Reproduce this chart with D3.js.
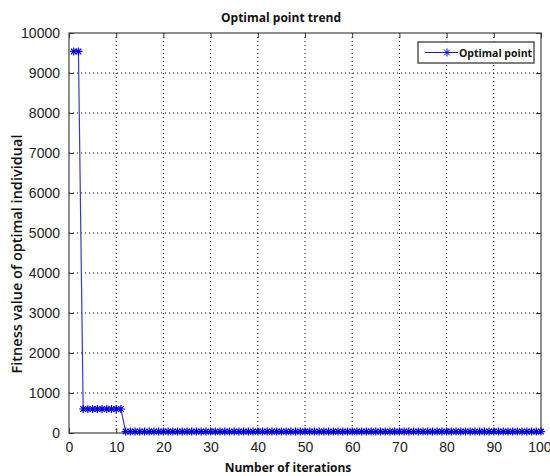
<!DOCTYPE html>
<html>
<head>
<meta charset="utf-8">
<script src="https://cdn.jsdelivr.net/npm/d3@7"></script>
<style>
  body { margin: 0; background: #fff; }
  svg { display: block; }
  .tick text { font-family: "Liberation Sans", Arial, sans-serif; font-size: 14px; fill: #222; }
  .grid line { stroke: #000; stroke-width: 1; stroke-dasharray: 1 3; }
  .lbl { font-family: "Open Sans", "DejaVu Sans", sans-serif; font-weight: bold; font-size: 12px; fill: #111; }
</style>
</head>
<body>
<div id="chart"></div>
<script>
// data
const xTicks = [0, 10, 20, 30, 40, 50, 60, 70, 80, 90, 100];
const yTicks = [0, 1000, 2000, 3000, 4000, 5000, 6000, 7000, 8000, 9000, 10000];
const iterations = [
  1, 2, 3, 4, 5, 6, 7, 8, 9, 10, 11, 12, 13, 14, 15, 16, 17, 18, 19, 20,
  21, 22, 23, 24, 25, 26, 27, 28, 29, 30, 31, 32, 33, 34, 35, 36, 37, 38, 39, 40,
  41, 42, 43, 44, 45, 46, 47, 48, 49, 50, 51, 52, 53, 54, 55, 56, 57, 58, 59, 60,
  61, 62, 63, 64, 65, 66, 67, 68, 69, 70, 71, 72, 73, 74, 75, 76, 77, 78, 79, 80,
  81, 82, 83, 84, 85, 86, 87, 88, 89, 90, 91, 92, 93, 94, 95, 96, 97, 98, 99, 100
];
const fitness = [
  9540, 9540, 600, 600, 600, 600, 600, 600, 600, 600, 600, 35, 35, 35, 35, 35, 35, 35, 35, 35,
  35, 35, 35, 35, 35, 35, 35, 35, 35, 35, 35, 35, 35, 35, 35, 35, 35, 35, 35, 35,
  35, 35, 35, 35, 35, 35, 35, 35, 35, 35, 35, 35, 35, 35, 35, 35, 35, 35, 35, 35,
  35, 35, 35, 35, 35, 35, 35, 35, 35, 35, 35, 35, 35, 35, 35, 35, 35, 35, 35, 35,
  35, 35, 35, 35, 35, 35, 35, 35, 35, 35, 35, 35, 35, 35, 35, 35, 35, 35, 35, 35
];
const seriesName = 'Optimal point';

const margin = { top: 33, right: 9, bottom: 43, left: 69 };
const width = 550 - margin.left - margin.right;
const height = 476 - margin.top - margin.bottom;

const svg = d3.select('#chart').append('svg')
  .attr('width', 550)
  .attr('height', 476);

const g = svg.append('g')
  .attr('transform', `translate(${margin.left},${margin.top})`);

const x = d3.scaleLinear().domain([0, 100]).range([0, width]);
const y = d3.scaleLinear().domain([0, 10000]).range([height, 0]);

// dotted grid
g.append('g').attr('class', 'grid')
  .selectAll('line').data(xTicks.slice(1, -1)).join('line')
  .attr('x1', d => x(d)).attr('x2', d => x(d))
  .attr('y1', 0).attr('y2', height);
g.append('g').attr('class', 'grid')
  .selectAll('line').data(yTicks.slice(1, -1)).join('line')
  .attr('y1', d => y(d)).attr('y2', d => y(d))
  .attr('x1', 0).attr('x2', width);

// axes, matlab style (ticks inward, on all four sides)
const styleAxis = sel => {
  sel.select('.domain').remove();
  sel.selectAll('.tick line').attr('stroke', '#333');
};
const fmt = d3.format('d');
const xAxisG = g.append('g').attr('transform', `translate(0,${height})`)
  .call(d3.axisBottom(x).tickValues(xTicks).tickFormat(fmt).tickSizeInner(-5).tickSizeOuter(0).tickPadding(9))
  .call(styleAxis);
// last label sits against the page edge, keep it inside
xAxisG.selectAll('.tick text').filter(d => d === 100)
  .attr('text-anchor', 'end').attr('dx', 10);
g.append('g')
  .call(d3.axisLeft(y).tickValues(yTicks).tickFormat(fmt).tickSizeInner(-5).tickSizeOuter(0).tickPadding(9))
  .call(styleAxis);
g.append('g')
  .call(d3.axisTop(x).tickValues(xTicks).tickSizeInner(-5).tickSizeOuter(0).tickFormat(''))
  .call(styleAxis);
g.append('g').attr('transform', `translate(${width},0)`)
  .call(d3.axisRight(y).tickValues(yTicks).tickSizeInner(-5).tickSizeOuter(0).tickFormat(''))
  .call(styleAxis);

g.append('rect')
  .attr('width', width).attr('height', height)
  .attr('fill', 'none').attr('stroke', '#444').attr('stroke-width', 1.2);

const points = iterations.map((it, i) => ({ it, v: fitness[i] }));

const line = d3.line().x(d => x(d.it)).y(d => y(d.v));
g.append('path').datum(points)
  .attr('d', line)
  .attr('fill', 'none')
  .attr('stroke', '#3a3acc')
  .attr('stroke-width', 1.2);

// asterisk marker
const star = r => {
  const k = r * Math.SQRT1_2;
  return `M0,${-r}V${r}M${-r},0H${r}M${-k},${-k}L${k},${k}M${-k},${k}L${k},${-k}`;
};
g.append('g').selectAll('path').data(points).join('path')
  .attr('transform', d => `translate(${x(d.it)},${y(d.v)})`)
  .attr('d', star(4))
  .attr('fill', 'none')
  .attr('stroke', '#0000ee')
  .attr('stroke-width', 1.2);

// legend
const lg = svg.append('g').attr('transform', 'translate(418,42)');
lg.append('rect').attr('width', 116).attr('height', 21)
  .attr('fill', '#fff').attr('stroke', '#555').attr('stroke-width', 1.5);
lg.append('line').attr('x1', 7).attr('x2', 40).attr('y1', 10.5).attr('y2', 10.5)
  .attr('stroke', '#222288').attr('stroke-width', 1.2);
lg.append('path').attr('transform', 'translate(29,10.5)')
  .attr('d', star(4)).attr('fill', 'none').attr('stroke', '#0000ee');
lg.append('text').attr('class', 'lbl').attr('x', 41).attr('y', 14.5)
  .style('font-size', '10.5px').text(seriesName);

// titles
svg.append('text').attr('class', 'lbl')
  .attr('x', 281).attr('y', 22).attr('text-anchor', 'middle')
  .text('Optimal point trend');
svg.append('text').attr('class', 'lbl')
  .attr('x', 288).attr('y', 472).attr('text-anchor', 'middle')
  .text('Number of iterations');
svg.append('text').attr('class', 'lbl')
  .attr('transform', 'translate(22,254) rotate(-90)')
  .attr('text-anchor', 'middle')
  .style('font-size', '14.5px')
  .style('font-weight', '600')
  .text('Fitness value of optimal individual');
</script>
</body>
</html>
